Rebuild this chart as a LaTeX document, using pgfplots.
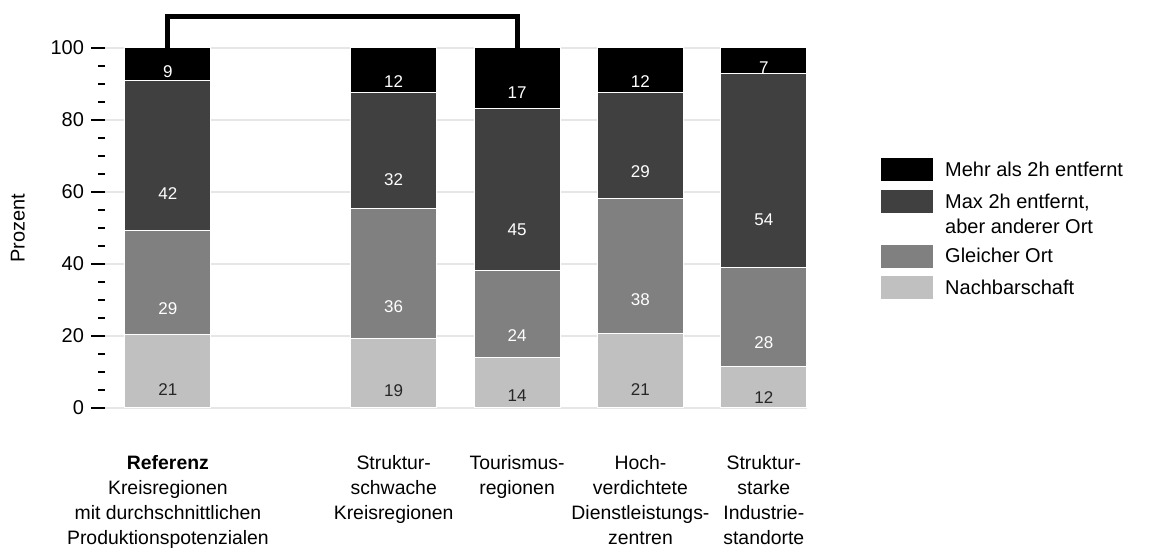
\documentclass[border=0pt]{standalone}
\usepackage{pgfplots}
\pgfplotsset{compat=1.18}
\usepackage{pgfplotstable}
\usepackage{fontspec}
\setmainfont{Liberation Sans}

\definecolor{cMehr}{HTML}{000000}
\definecolor{cMax}{HTML}{404040}
\definecolor{cGleich}{HTML}{808080}
\definecolor{cNach}{HTML}{C0C0C0}
\definecolor{cGrid}{HTML}{E6E6E6}

% strut for legend rows
\newcommand\ls{\rule[-3pt]{0pt}{9pt}}

% x positions: Referenz, then the four region types
\pgfplotstableread{
x    y    lab
0    20.3 21
1.83 19.2 19
2.83 13.9 14
3.83 20.6 21
4.83 11.4 12
}\nach
\pgfplotstableread{
x    y    lab
0    28.9 29
1.83 36.1 36
2.83 24.4 24
3.83 37.7 38
4.83 27.5 28
}\gleich
\pgfplotstableread{
x    y    lab
0    41.9 42
1.83 32.2 32
2.83 45.0 45
3.83 29.2 29
4.83 53.9 54
}\maxzwei
\pgfplotstableread{
x    y    lab
0    8.9  9
1.83 12.5 12
2.83 16.7 17
3.83 12.5 12
4.83 7.2  7
}\mehr

\pgfplotsset{
  seg/.style 2 args={
    fill=#1, draw=white, line width=0.5pt, forget plot,
    nodes near coords, point meta=explicit symbolic,
    visualization depends on={\thisrow{y} \as \rawy},
    every node near coord/.append style={anchor=center,
      shift={(axis direction cs:0,-\rawy/4)},
      font=\fontsize{8.5}{10}\selectfont, text=#2},
  },
  patch/.style={legend image code/.code={\fill[#1] (0pt,-4.9pt) rectangle (25.5pt,6.1pt);}},
  patchtwo/.style={legend image code/.code={\fill[#1] (0pt,1.35pt) rectangle (25.5pt,12.35pt);}},
}

\begin{document}
\begin{tikzpicture}
\begin{axis}[
  name=main,
  scale only axis, width=351pt, height=180pt,
  xmin=-0.51, xmax=5.18, ymin=0, ymax=100,
  ybar stacked, bar width=43pt,
  axis line style={draw=none},
  xtick={0,1.83,2.83,3.83,4.83},
  xticklabels={
    {\textbf{Referenz}\\Kreisregionen\\mit durchschnittlichen\\Produktionspotenzialen},
    {Struktur-\\schwache\\Kreisregionen},
    {Tourismus-\\regionen},
    {Hoch-\\verdichtete\\Dienstleistungs-\\zentren},
    {Struktur-\\starke\\Industrie-\\standorte}},
  xticklabel style={align=center, anchor=north, yshift=-13pt,
    font=\fontsize{9.7}{12.5}\selectfont},
  xtick style={draw=none},
  ytick={0,20,...,100}, minor y tick num=3,
  ytick pos=left,
  tick align=outside,
  major tick length=7pt, minor tick length=3.5pt,
  ytick style={black, line width=1pt},
  yticklabel style={font=\fontsize{10}{12}\selectfont},
  /pgf/number format/assume math mode=true,
  ymajorgrids, major grid style={cGrid, line width=0.7pt},
  ylabel={Prozent},
  ylabel style={at={(axis description cs:-0.124,0.5)}, anchor=center,
    font=\fontsize{10}{12}\selectfont},
  legend style={draw=none, fill=none, at={(axis description cs:1,1)},
    anchor=north west, xshift=34pt, yshift=-53pt,
    font=\fontsize{10}{12.5}\selectfont,
    nodes={inner sep=0pt}, row sep=4.25pt, column sep=6pt},
  legend cell align=left,
]
\addlegendimage{patch=cMehr}
\addlegendentry{\ls Mehr als 2h entfernt}
\addlegendimage{patchtwo=cMax}
\addlegendentry[align=left]{\ls Max 2h entfernt,\\aber anderer Ort\ls}
\addlegendimage{patch=cGleich}
\addlegendentry{\ls Gleicher Ort}
\addlegendimage{patch=cNach}
\addlegendentry{\ls Nachbarschaft}

\addplot[seg={cNach}{black!85}] table[x=x, y=y, meta=lab] {\nach};
\addplot[seg={cGleich}{white}] table[x=x, y=y, meta=lab] {\gleich};
\addplot[seg={cMax}{white}] table[x=x, y=y, meta=lab] {\maxzwei};
\addplot[seg={cMehr}{white}] table[x=x, y=y, meta=lab] {\mehr};
\end{axis}
% bracket between Referenz and Tourismusregionen
\begin{axis}[
  scale only axis, width=351pt, height=180pt,
  xmin=-0.51, xmax=5.18, ymin=0, ymax=100,
  hide axis, clip=false,
  at={(main.south west)}, anchor=south west,
]
\addplot[black, line width=2.5pt, line join=miter, mark=none]
  coordinates {(0,100) (0,108.8) (2.83,108.8) (2.83,100)};
\end{axis}
\pgfresetboundingbox
\path[use as bounding box] ([shift={(-52.5pt,-70.5pt)}]main.south west) rectangle ++(575.5pt,274.5pt);
\end{tikzpicture}
\end{document}
